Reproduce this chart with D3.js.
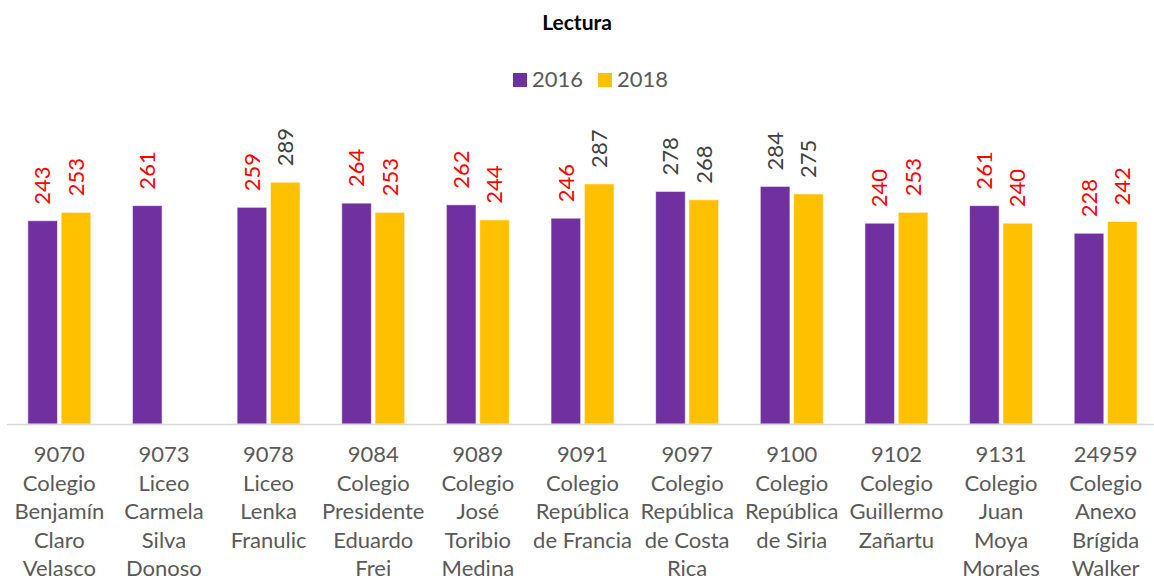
<!DOCTYPE html>
<html>
<head>
<meta charset="utf-8">
<script src="https://cdn.jsdelivr.net/npm/d3@7"></script>
<style>
  body { margin: 0; background: #fff; }
  text { font-family: Lato, "Open Sans", sans-serif; }
</style>
</head>
<body>
<div id="chart"></div>
<script>
// chart data
var schools = [
  ["9070", "Colegio", "Benjamín", "Claro", "Velasco"],
  ["9073", "Liceo", "Carmela", "Silva", "Donoso"],
  ["9078", "Liceo", "Lenka", "Franulic"],
  ["9084", "Colegio", "Presidente", "Eduardo", "Frei"],
  ["9089", "Colegio", "José", "Toribio", "Medina"],
  ["9091", "Colegio", "República", "de Francia"],
  ["9097", "Colegio", "República", "de Costa", "Rica"],
  ["9100", "Colegio", "República", "de Siria"],
  ["9102", "Colegio", "Guillermo", "Zañartu"],
  ["9131", "Colegio", "Juan", "Moya", "Morales"],
  ["24959", "Colegio", "Anexo", "Brígida", "Walker"]
];
var years = ["2016", "2018"];
var values2016 = [243, 261, 259, 264, 262, 246, 278, 284, 240, 261, 228];
var values2018 = [253, null, 289, 253, 244, 287, 268, 275, 253, 240, 242];

var svgWidth = 1154;
var svgHeight = 582;
var colors = ["#7030A0", "#FFC000"];

var svg = d3.select("#chart").append("svg")
    .attr("width", svgWidth)
    .attr("height", svgHeight);

// title
svg.append("text")
    .attr("x", 577)
    .attr("y", 30)
    .attr("text-anchor", "middle")
    .attr("font-weight", "bold")
    .attr("font-size", 21)
    .attr("fill", "#000")
    .text("Lectura");

// legend
var legendX = [513, 598];
years.forEach(function(yr, i) {
  svg.append("rect")
    .attr("x", legendX[i]).attr("y", 73)
    .attr("width", 14).attr("height", 14)
    .attr("fill", colors[i]);
  svg.append("text")
    .attr("x", legendX[i] + 19).attr("y", 87)
    .attr("font-size", 22)
    .attr("fill", "#595959")
    .text(yr);
});

// scales
var codes = schools.map(d => d[0]);
var xScale = d3.scaleBand().domain(codes).range([7, 1158]);
var xSub = d3.scaleBand().domain(years).range([-31.5, 31.5]).paddingInner(0.11);
var yScale = d3.scaleLinear().domain([0, 300]).range([424, 173]);

var rows = [];
codes.forEach(function(c, i) {
  rows.push({code: c, year: "2016", value: values2016[i], color: colors[0]});
  rows.push({code: c, year: "2018", value: values2018[i], color: colors[1]});
});
var present = rows.filter(d => d.value != null);

var bandHalf = xScale.bandwidth() / 2;
var bx = d => xScale(d.code) + bandHalf + xSub(d.year);

svg.append("g").selectAll("rect")
  .data(present)
  .enter()
  .append("rect")
    .attr("x", bx)
    .attr("y", d => yScale(d.value))
    .attr("width", xSub.bandwidth())
    .attr("height", d => yScale(0) - yScale(d.value))
    .attr("fill", d => d.color)
    .attr("stroke", "#fff")
    .attr("stroke-opacity", 0.6)
    .attr("stroke-width", 1);

// value labels (rotated)
svg.append("g").selectAll("text")
  .data(present)
  .enter()
  .append("text")
    .attr("transform", d => `translate(${bx(d) + xSub.bandwidth() / 2}, ${yScale(d.value) - 16}) rotate(-90)`)
    .attr("dy", "0.35em")
    .attr("font-size", 22)
    .attr("fill", d => d.value >= 265 ? "#404040" : "#FF0000")
    .text(d => d.value);

// x axis line
svg.append("line")
    .attr("x1", 7).attr("x2", 1154)
    .attr("y1", yScale(0) + 0.5).attr("y2", yScale(0) + 0.5)
    .attr("stroke", "#d9d9d9")
    .attr("stroke-width", 1.5);

// category labels
var labels = svg.append("g").selectAll("text")
  .data(schools)
  .enter()
  .append("text")
    .attr("x", d => xScale(d[0]) + bandHalf)
    .attr("y", 462)
    .attr("text-anchor", "middle")
    .attr("font-size", 22)
    .attr("fill", "#595959");

labels.selectAll("tspan")
  .data(d => d)
  .enter()
  .append("tspan")
    .attr("x", function() { return d3.select(this.parentNode).attr("x"); })
    .attr("dy", (d, i) => i == 0 ? 0 : 28.5)
    .text(d => d);
</script>
</body>
</html>
